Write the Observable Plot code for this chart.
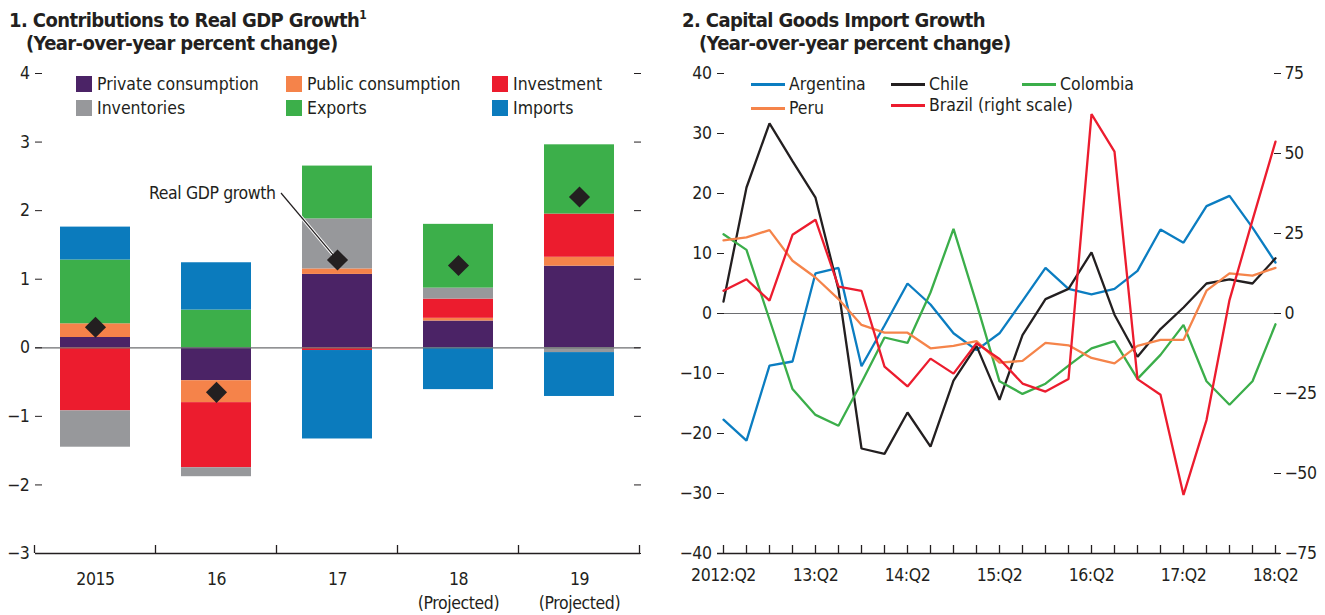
<!DOCTYPE html>
<html>
<head>
<meta charset="utf-8">
<script src="https://cdn.jsdelivr.net/npm/d3@7"></script>
<script src="https://cdn.jsdelivr.net/npm/@observablehq/plot@0.6"></script>
<style>
  html, body { margin: 0; padding: 0; background: #fff; }
  #root { position: relative; width: 1325px; height: 615px; overflow: hidden; color: #231f20;
          font-family: "Liberation Sans Narrow", "Arial Narrow", "DejaVu Sans Condensed", sans-serif; }
  .title { position: absolute; font-weight: bold; font-size: 20px; letter-spacing: -0.6px; line-height: 23px; white-space: nowrap; }
  .title .sup { font-size: 12px; position: relative; top: -8px; line-height: 0; letter-spacing: 0; }
  .leg { position: absolute; font-size: 17.5px; white-space: nowrap; display: flex; align-items: center; height: 20px; }
  .sw { display: inline-block; width: 16px; height: 16px; margin-right: 5px; }
  .ln { display: inline-block; width: 34px; height: 3px; margin-right: 4px; }
  .plotbox { position: absolute; top: 55px; }
  .plotbox svg text { letter-spacing: -0.4px; }
</style>
</head>
<body>
<div id="root">
  <div class="title" style="left:9px; top:9px;">1. Contributions to Real GDP Growth<span class="sup">1</span><br>&nbsp;&nbsp;&nbsp;(Year-over-year percent change)</div>
  <div class="title" style="left:682px; top:9px;">2. Capital Goods Import Growth<br>&nbsp;&nbsp;&nbsp;(Year-over-year percent change)</div>
  <div id="left" class="plotbox" style="left:0px;"></div>
  <div id="right" class="plotbox" style="left:660px;"></div>
  <div id="legendLeft"></div>
  <div id="legendRight"></div>
</div>
<script>
// ---------- Panel 1 data ----------
const years = ["2015", "16", "17", "18", "19"];
const yearNotes = ["", "", "", "(Projected)", "(Projected)"];
const components = ["Private consumption", "Public consumption", "Investment", "Inventories", "Exports", "Imports"];
const componentColors = ["#4b2366", "#f5834a", "#ec1c2e", "#97989b", "#3caf4a", "#0b7bbd"];
const privateConsumption = [0.15, -0.48, 1.07, 0.39, 1.19];
const publicConsumption  = [0.20, -0.32, 0.08, 0.04, 0.13];
const investment         = [-0.92, -0.95, -0.04, 0.28, 0.63];
const inventories        = [-0.53, -0.13, 0.73, 0.16, -0.07];
const exportsContrib     = [0.93, 0.55, 0.77, 0.93, 1.01];
const importsContrib     = [0.48, 0.69, -1.29, -0.61, -0.64];
const realGdpGrowth      = [0.30, -0.65, 1.28, 1.20, 2.20];
const leftYTicks = [-3, -2, -1, 0, 1, 2, 3, 4];
const annotationLabel = "Real GDP growth";

// ---------- Panel 2 data ----------
const quarters = ["2012:Q2","2012:Q3","2012:Q4","2013:Q1","2013:Q2","2013:Q3","2013:Q4","2014:Q1","2014:Q2",
  "2014:Q3","2014:Q4","2015:Q1","2015:Q2","2015:Q3","2015:Q4","2016:Q1","2016:Q2","2016:Q3","2016:Q4",
  "2017:Q1","2017:Q2","2017:Q3","2017:Q4","2018:Q1","2018:Q2"];
const argentina = [-17.7, -21.2, -8.7, -8.0, 6.7, 7.6, -8.8, -2.0, 5.0, 1.5, -3.3, -6.1, -3.3, 2.1, 7.6, 4.1, 3.2, 4.1, 7.1, 14.0, 11.8, 17.9, 19.6, 14.3, 8.5];
const chile     = [2.0, 21.0, 31.7, 25.4, 19.3, 4.0, -22.5, -23.4, -16.5, -22.2, -11.2, -5.4, -14.4, -3.6, 2.4, 4.1, 10.2, -0.2, -7.2, -2.6, 1.0, 5.0, 5.7, 5.0, 9.2];
const colombia  = [13.2, 10.6, -1.0, -12.6, -16.9, -18.7, -11.5, -4.0, -4.9, 3.5, 14.1, 1.7, -11.3, -13.4, -11.7, -8.7, -5.8, -4.6, -10.9, -6.9, -1.9, -11.3, -15.2, -11.3, -1.8];
const peru      = [12.2, 12.7, 13.9, 8.8, 6.0, 2.4, -1.9, -3.2, -3.2, -5.8, -5.4, -4.6, -8.2, -7.9, -4.9, -5.3, -7.4, -8.3, -5.4, -4.4, -4.4, 3.8, 6.7, 6.3, 7.6];
const brazil    = [7.1, 10.7, 4.0, 24.6, 29.3, 8.4, 7.1, -16.6, -22.8, -14.1, -18.8, -9.3, -14.2, -21.9, -24.4, -20.5, 62.3, 50.6, -20.5, -25.4, -56.7, -33.3, 4.2, 29.2, 53.7];
const countries = ["Argentina", "Chile", "Colombia", "Peru", "Brazil (right scale)"];
const countryColors = ["#0b7dc1", "#231f20", "#3bae4a", "#f5844a", "#ec1c2e"];
const rightYTicks = [-40, -30, -20, -10, 0, 10, 20, 30, 40];
const brazilTicks = [-75, -50, -25, 0, 25, 50, 75];
const leftAxisMax = 40, rightAxisMax = 75;
const xTickQuarters = ["2012:Q2","2013:Q2","2014:Q2","2015:Q2","2016:Q2","2017:Q2","2018:Q2"];
const xTickLabels   = ["2012:Q2","13:Q2","14:Q2","15:Q2","16:Q2","17:Q2","18:Q2"];

const FONT = '"Liberation Sans Narrow", "Arial Narrow", "DejaVu Sans Condensed", sans-serif';
const INK = "#231f20";
const FS = 17.5;
const minus = v => (v < 0 ? "\u2212" + Math.abs(v) : String(v));

// ---------- Panel 1 ----------
const componentSeries = [privateConsumption, publicConsumption, investment, inventories, exportsContrib, importsContrib];
const barRows = [];
years.forEach((yr, i) => components.forEach((c, j) => barRows.push({year: yr, component: c, value: componentSeries[j][i]})));
const gdpRows = years.map((yr, i) => ({year: yr, value: realGdpGrowth[i]}));
const annotRows = [{year: "17", value: 2.25, label: annotationLabel}];

const leftPlot = Plot.plot({
  width: 660, height: 560,
  marginTop: 18, marginBottom: 62, marginLeft: 35, marginRight: 20,
  style: {fontFamily: FONT, fontSize: FS + "px", color: INK, background: "transparent", overflow: "visible"},
  x: {type: "band", domain: years, paddingInner: 0.42, paddingOuter: 0.21, label: null},
  y: {domain: [-3, 4], label: null},
  color: {domain: components, range: componentColors},
  marks: [
    Plot.barY(barRows, {x: "year", y: "value", fill: "component"}),
    Plot.ruleY([0], {stroke: "#6d6e71", strokeWidth: 1.2}),
    Plot.ruleY([-3], {stroke: INK, strokeWidth: 1.3}),
    Plot.dot(gdpRows, {x: "year", y: "value", symbol: "diamond2", r: 9.5, fill: INK, stroke: "none"}),
    Plot.text(annotRows, {x: "year", y: "value", text: "label", textAnchor: "end", dx: -62, fontSize: FS, fill: INK}),
    Plot.axisY({anchor: "left", ticks: leftYTicks, tickSize: 0, tickPadding: 6, tickFormat: minus, fontSize: FS}),
    Plot.axisY({anchor: "left", ticks: leftYTicks, tickSize: 7, dx: 7, tickFormat: () => "", stroke: INK}),
    Plot.axisY({anchor: "right", ticks: leftYTicks, tickSize: 7, dx: -7, tickFormat: () => "", stroke: INK}),
    Plot.axisX({anchor: "bottom", tickSize: 0, tickPadding: 14, fontSize: FS, lineHeight: 1.4,
      tickFormat: d => yearNotes[years.indexOf(d)] ? d + "\n" + yearNotes[years.indexOf(d)] : d})
  ]
});
document.getElementById("left").appendChild(leftPlot);

// separators and leader line drawn through the plot's own scales
{
  const xs = leftPlot.scale("x"), ys = leftPlot.scale("y");
  const gap = (xs.step - xs.bandwidth) / 2;
  const bounds = years.map(d => xs.apply(d) - gap).concat([xs.apply(years[years.length - 1]) + xs.bandwidth + gap]);
  const yBase = ys.apply(-3);
  const svg = d3.select(leftPlot);
  svg.append("g").selectAll("line").data(bounds).join("line")
    .attr("x1", d => d).attr("x2", d => d).attr("y1", yBase).attr("y2", yBase - 8)
    .attr("stroke", INK).attr("stroke-width", 1.3);
  const cx = xs.apply("17") + xs.bandwidth / 2;
  const p1 = [cx - 56, ys.apply(2.25)], p2 = [cx, ys.apply(realGdpGrowth[2])];
  const g = svg.append("g");
  g.append("line").attr("x1", p1[0]).attr("y1", p1[1]).attr("x2", p2[0]).attr("y2", p2[1])
    .attr("stroke", "#fff").attr("stroke-width", 3.2);
  g.append("line").attr("x1", p1[0]).attr("y1", p1[1]).attr("x2", p2[0]).attr("y2", p2[1])
    .attr("stroke", INK).attr("stroke-width", 1.2);
  svg.select("g[aria-label='dot']").raise();
}

// ---------- Panel 2 ----------
const ratio = leftAxisMax / rightAxisMax;
const seriesList = [argentina, chile, colombia, peru, brazil.map(v => v * ratio)];
const lineRows = [];
countries.forEach((c, j) => quarters.forEach((q, i) => lineRows.push({quarter: q, country: c, value: seriesList[j][i]})));

const rightPlot = Plot.plot({
  width: 665, height: 560,
  marginTop: 18, marginBottom: 62, marginLeft: 57, marginRight: 45,
  style: {fontFamily: FONT, fontSize: FS + "px", color: INK, background: "transparent", overflow: "visible"},
  x: {type: "point", domain: quarters, padding: 0, label: null},
  y: {domain: [-40, 40], label: null},
  color: {domain: countries, range: countryColors},
  marks: [
    Plot.ruleY([0], {stroke: "#6d6e71", strokeWidth: 1.2}),
    Plot.lineY(lineRows, {x: "quarter", y: "value", stroke: "country", z: "country", strokeWidth: 2.3, strokeLinejoin: "miter"}),
    Plot.ruleY([-40], {stroke: INK, strokeWidth: 1.3}),
    Plot.axisY({anchor: "left", ticks: rightYTicks, tickSize: 0, tickPadding: 6, tickFormat: minus, fontSize: FS}),
    Plot.axisY({anchor: "left", ticks: rightYTicks, tickSize: 7, dx: 7, tickFormat: () => "", stroke: INK}),
    Plot.axisY({anchor: "right", ticks: brazilTicks.map(v => v * ratio), tickSize: 0, tickPadding: 4,
      tickFormat: v => minus(Math.round(v / ratio)), fontSize: FS}),
    Plot.axisY({anchor: "right", ticks: brazilTicks.map(v => v * ratio), tickSize: 7, dx: -7, tickFormat: () => "", stroke: INK}),
    Plot.axisX({anchor: "bottom", ticks: quarters, tickSize: 8, dy: -8, tickFormat: () => "", stroke: INK, strokeWidth: 1.3}),
    Plot.axisX({anchor: "bottom", ticks: xTickQuarters, tickSize: 0, tickPadding: 15, fontSize: FS,
      tickFormat: q => xTickLabels[xTickQuarters.indexOf(q)]})
  ]
});
document.getElementById("right").appendChild(rightPlot);

// ---------- Legends ----------
{
  const L = document.getElementById("legendLeft");
  const colX = [76, 286, 492], rowY = [74, 98];
  components.forEach((c, j) => {
    const d = document.createElement("div");
    d.className = "leg";
    d.style.left = colX[j % 3] + "px";
    d.style.top = rowY[Math.floor(j / 3)] + "px";
    d.innerHTML = `<span class="sw" style="background:${componentColors[j]}"></span>${c}`;
    L.appendChild(d);
  });
  const R = document.getElementById("legendRight");
  const pos = [[751, 74], [891, 74], [1022, 74], [751, 98], [891, 95]];
  countries.forEach((c, j) => {
    const d = document.createElement("div");
    d.className = "leg";
    d.style.left = pos[j][0] + "px";
    d.style.top = pos[j][1] + "px";
    d.innerHTML = `<span class="ln" style="background:${countryColors[j]}"></span>${c}`;
    R.appendChild(d);
  });
}
</script>
</body>
</html>
